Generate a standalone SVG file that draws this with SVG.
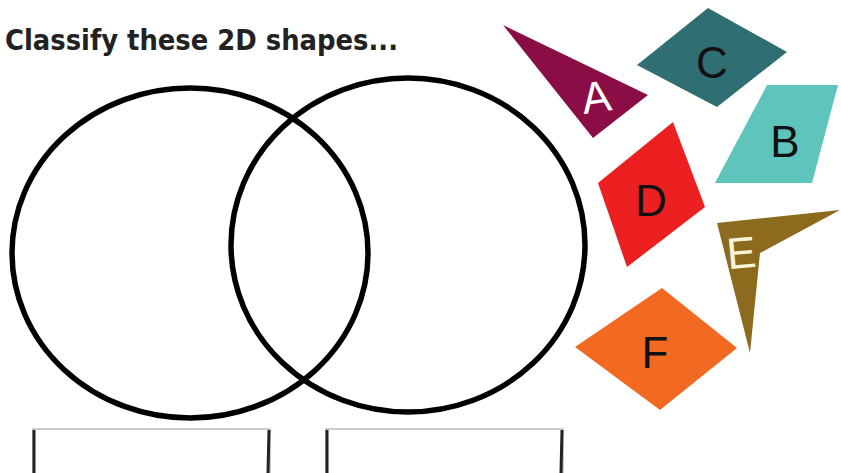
<svg xmlns="http://www.w3.org/2000/svg" width="841" height="473" viewBox="0 0 841 473">
<style>
.ring{fill:none;stroke:#000;stroke-width:5.5}
.lbl{font-family:"Liberation Sans","DejaVu Sans",sans-serif;font-size:44px;text-anchor:middle}
.box{fill:#fff;stroke:#bbb;stroke-width:1.5}
.side{stroke:#222;stroke-width:3}
</style>
<rect width="841" height="473" fill="#fff"/>
<text x="5" y="50" font-family="'DejaVu Sans Condensed','Liberation Sans',sans-serif" font-size="29" font-weight="bold" fill="#222" textLength="393" lengthAdjust="spacingAndGlyphs">Classify these 2D shapes...</text>
<g id="set-left"><ellipse class="ring" cx="190" cy="253" rx="178" ry="165"/></g>
<g id="set-right"><ellipse class="ring" cx="408" cy="245" rx="177" ry="167"/></g>
<g id="label-left"><rect class="box" x="33" y="429" width="237" height="50"/><line class="side" x1="34" y1="430" x2="34" y2="473"/><line class="side" x1="269" y1="430" x2="268" y2="473"/></g>
<g id="label-right"><rect class="box" x="326" y="429" width="237" height="50"/><line class="side" x1="327" y1="430" x2="327" y2="473"/><line class="side" x1="562" y1="430" x2="561" y2="473"/></g>
<g id="shape-A"><polygon points="503,25 648,95 593,138" fill="#8A0D45"/><text class="lbl" x="596" y="112" fill="#fff" transform="rotate(-8 596 95)">A</text></g>
<g id="shape-C"><polygon points="708,8 787,52 717,107 637,65" fill="#2F6E72"/><text class="lbl" x="712" y="78" fill="#111" font-size="38">C</text></g>
<g id="shape-B"><polygon points="767,85 838,85 812,183 715,183" fill="#5EC4BC"/><text class="lbl" x="785" y="157" fill="#111">B</text></g>
<g id="shape-D"><polygon points="598,183 673,122 705,207 627,267" fill="#EC2020"/><text class="lbl" x="651" y="216" fill="#111">D</text></g>
<g id="shape-E"><polygon points="717,223 840,210 760,253 750,353" fill="#8C6A1E"/><text class="lbl" x="741" y="268" fill="#FBF3D8" transform="rotate(-5 741 250)">E</text></g>
<g id="shape-F"><polygon points="662,288 737,348 660,410 575,347" fill="#F26A22"/><text class="lbl" x="655" y="368" fill="#111">F</text></g>
</svg>
